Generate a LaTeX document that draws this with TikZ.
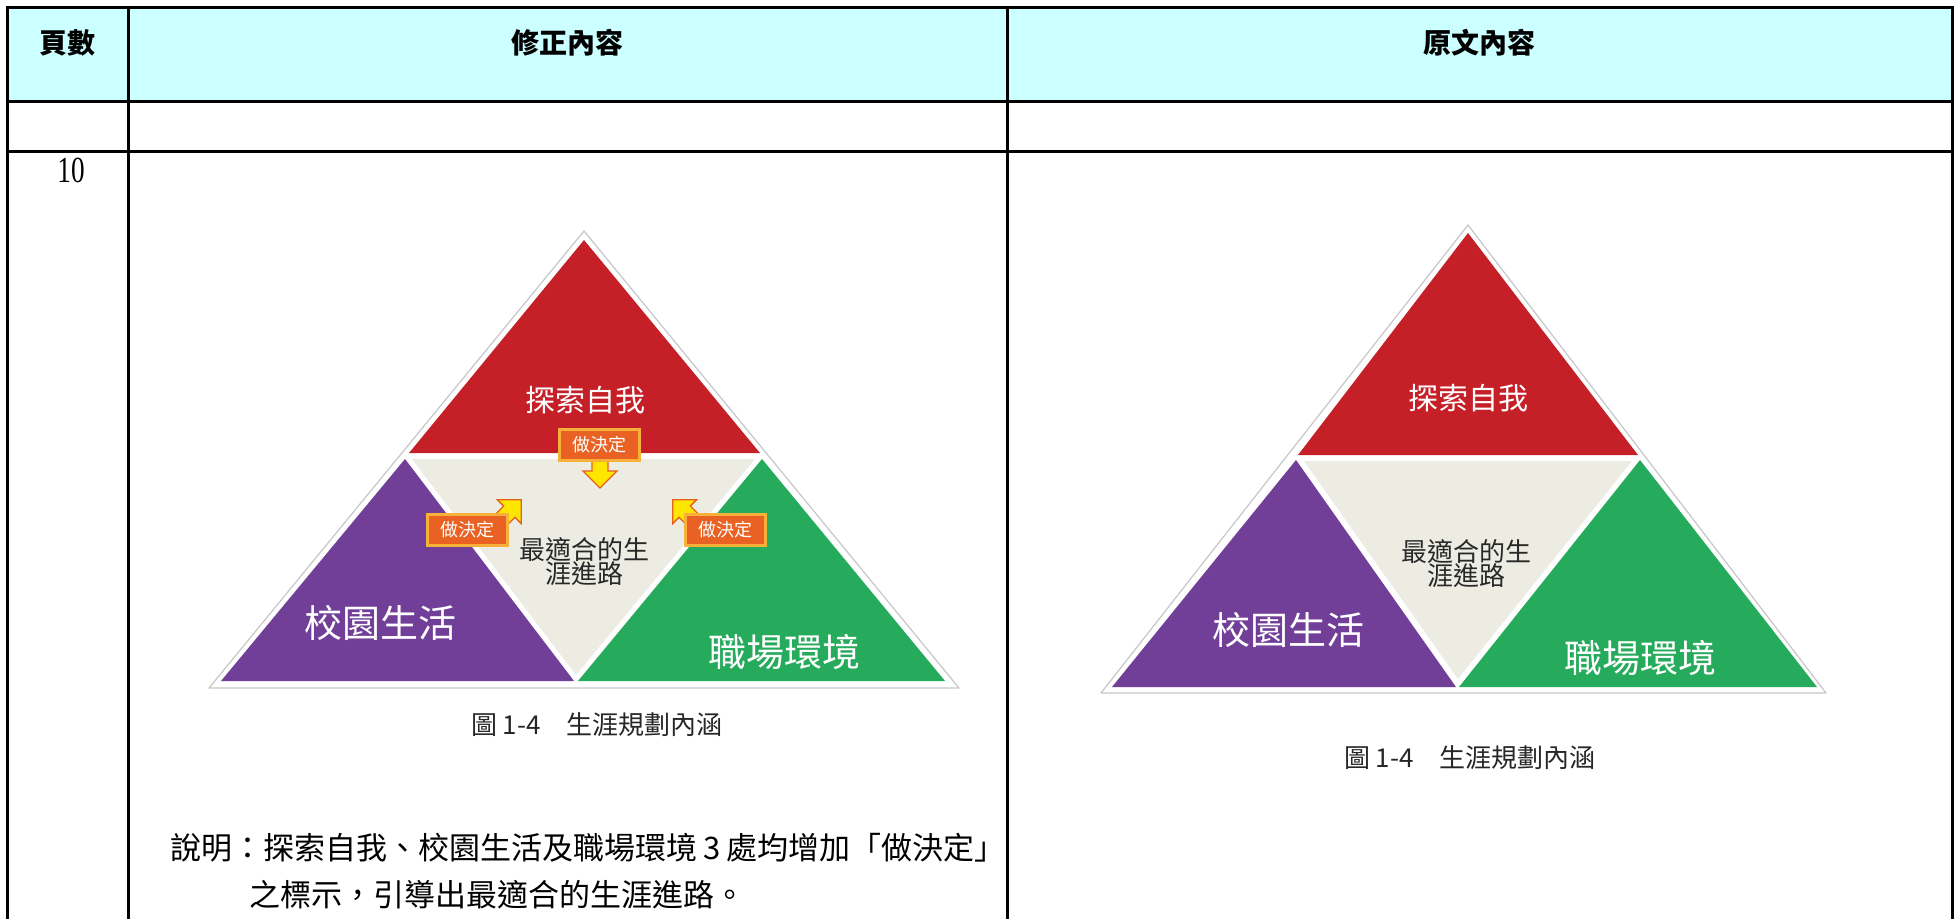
\documentclass[tikz,border=0pt]{standalone}
\usepackage{fontspec}
\setmainfont{Liberation Serif}
\newfontfamily\cjk{Noto Sans CJK TC}
\definecolor{hdr}{RGB}{204,255,255}
\definecolor{tred}{RGB}{197,31,39}
\definecolor{tpur}{RGB}{113,63,152}
\definecolor{tgrn}{RGB}{37,171,91}
\definecolor{tbei}{RGB}{237,236,227}
\definecolor{bxor}{RGB}{234,98,35}
\definecolor{bxgd}{RGB}{247,177,58}
\definecolor{arry}{RGB}{255,230,0}
\definecolor{arro}{RGB}{232,96,28}
\definecolor{dtxt}{RGB}{40,40,40}
\newcommand\myfs[1]{\fontsize{#1}{#1}\selectfont}
\tikzset{
  rule/.style={line width=3pt, black},
  outertri/.style={fill=white, draw=black!22, line width=1.2pt, line join=round},
  hdrtxt/.style={font=\cjk\bfseries\myfs{28}},
  wtxt/.style={text=white, font=\cjk\myfs{#1}},
  dtext/.style={text=dtxt, font=\cjk\myfs{26}, align=center},
  captxt/.style={text=black!85, font=\cjk\myfs{26}},
  notetxt/.style={font=\cjk\myfs{31}, anchor=west, inner sep=0pt},
  dbox/.style={fill=bxor, draw=bxgd, line width=3pt, minimum width=80pt, minimum height=31pt, inner sep=0pt, text=white, font=\cjk\myfs{18}},
  arrowshape/.style={fill=arry, draw=arro, line width=1.3pt, line join=miter}
}
\newcommand\blockarr[3]{\begin{scope}[shift={(#1,#2)},rotate=#3]
  \draw[arrowshape] (0,-8) -- (16,-8) -- (16,-17) -- (33,0) -- (16,17) -- (16,8) -- (0,8) -- cycle;
\end{scope}}
\begin{document}
\begin{tikzpicture}[x=1pt,y=-1pt]
\useasboundingbox (0,0) rectangle (1954,919);
\fill[white] (0,0) rectangle (1954,919);
% table
\fill[hdr] (7,7) rectangle (1952,101);
\draw[rule] (7,919) -- (7,7) -- (1952,7) -- (1952,919);
\draw[rule] (128,7) -- (128,919);
\draw[rule] (1007,7) -- (1007,919);
\draw[rule] (7,101) -- (1952,101);
\draw[rule] (7,151) -- (1952,151);
\node[hdrtxt] (hA) at (67.5,43) {頁數};
\node[hdrtxt] (hB) at (567,43) {修正內容};
\node[hdrtxt] (hC) at (1479,43) {原文內容};
\node[font=\myfs{32}] (pg) at (71,170) {\scalebox{0.85}[1.15]{10}};

% ---------- left diagram ----------
\draw[outertri] (584,231) -- (209,688) -- (959,688) -- cycle;
\fill[tred] (584,240) -- (409,453) -- (760,453) -- cycle;
\fill[tpur] (405,459) -- (221,681) -- (574,681) -- cycle;
\fill[tgrn] (762,459) -- (578,681) -- (945,681) -- cycle;
\fill[tbei] (412,459) -- (755,459) -- (576,675) -- cycle;
\node[wtxt=30] (lself) at (585,400) {探索自我};
\node[wtxt=38] (lcamp) at (380,623) {校園生活};
\node[wtxt=38] (lwork) at (784,652) {職場環境};
\node[dtext] (lpath) at (584,562) {最適合的生\\[-2pt]涯進路};
\blockarr{600}{455}{-90}
\blockarr{498}{523}{45}
\blockarr{696}{523}{135}
\node[dbox] (boxT) at (599,445) {做決定};
\node[dbox] (boxL) at (467,530) {做決定};
\node[dbox] (boxR) at (725,530) {做決定};
\node[captxt] (capL) at (597,725) {圖 1-4\hspace{1em}生涯規劃內涵};

% ---------- right diagram ----------
\draw[outertri] (1468,225) -- (1101,693) -- (1826,693) -- cycle;
\fill[tred] (1468,233) -- (1298,455) -- (1638,455) -- cycle;
\fill[tpur] (1296,460) -- (1112,687) -- (1456,687) -- cycle;
\fill[tgrn] (1640,460) -- (1459,687) -- (1817,687) -- cycle;
\fill[tbei] (1304,461) -- (1632,461) -- (1458,679) -- cycle;
\node[wtxt=30] (rself) at (1468,398) {探索自我};
\node[wtxt=38] (rcamp) at (1288,630) {校園生活};
\node[wtxt=38] (rwork) at (1640,658) {職場環境};
\node[dtext] (rpath) at (1466,564) {最適合的生\\[-2pt]涯進路};
\node[captxt] (capR) at (1470,758) {圖 1-4\hspace{1em}生涯規劃內涵};

% ---------- note ----------
\node[notetxt] (note1) at (170,848) {說明：探索自我、校園生活及職場環境\hspace{0.2em}3\hspace{0.2em}處均增加「做決定」};
\node[notetxt] (note2) at (249,895) {之標示，引導出最適合的生涯進路。};
\end{tikzpicture}
\end{document}
